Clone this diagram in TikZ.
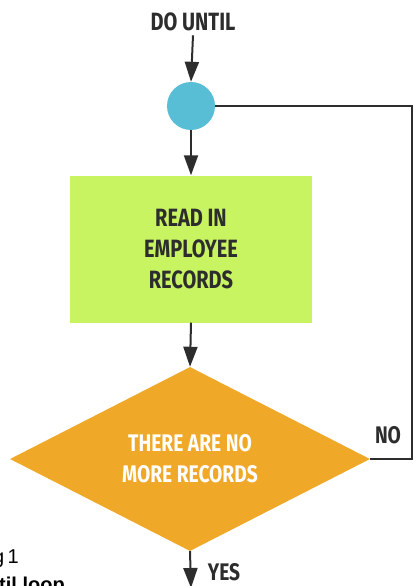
\documentclass[tikz,border=0pt]{standalone}
\usepackage{fontspec}
\setmainfont{Liberation Sans}
\newfontfamily\condfont[FakeStretch=0.8]{Fira Sans}
\usetikzlibrary{shapes.geometric,arrows.meta}
\definecolor{loopblue}{RGB}{88,190,214}
\definecolor{boxgreen}{RGB}{200,244,98}
\definecolor{testorange}{RGB}{240,168,40}
\definecolor{linegray}{RGB}{45,45,45}
\begin{document}
\begin{tikzpicture}[x=1pt,y=-1pt,
  flow/.style={draw=linegray,line width=2pt,-{Triangle[length=20pt,width=14pt]}},
  link/.style={draw=linegray,line width=1.6pt},
  label/.style={font=\condfont\bfseries\fontsize{24}{31}\selectfont,text=linegray,inner sep=0pt},
  loopdot/.style={circle,fill=loopblue,minimum size=48pt,inner sep=0pt},
  readbox/.style={rectangle,fill=boxgreen,minimum width=242pt,minimum height=147pt,align=center,
    font=\condfont\bfseries\fontsize{25}{31}\selectfont,text=linegray},
  test/.style={diamond,fill=testorange,minimum width=360pt,minimum height=174pt,inner sep=0pt,
    align=center,font=\condfont\bfseries\fontsize{24}{31}\selectfont,text=white}]
\useasboundingbox (0,0) rectangle (413,586);
\node[label,font=\condfont\bfseries\fontsize{25}{31}\selectfont] (start) at (193,22) {DO UNTIL};
\node[loopdot] (loop) at (191,106) {};
\node[readbox] (read) at (191,249) {READ IN\\EMPLOYEE\\RECORDS};
\node[test] (check) at (190,459) {THERE ARE NO\\MORE RECORDS};
\node[label] (no) at (388,435) {NO};
\node[label] (yes) at (224,572) {YES};
\coordinate (back) at (412,106);
\coordinate (out) at (191,588);
% caption, cut off at the left
\node[anchor=base east,font=\fontsize{20}{24}\selectfont,inner sep=0pt] (fig) at (19,563) {g\,1};
\node[anchor=base west,font=\bfseries\fontsize{20}{24}\selectfont,inner sep=0pt] (cap) at (-1,591) {til loop};
\draw[flow] ([yshift=-4pt]start.south) -- (loop.north);
\draw[flow] (loop.south) -- (read.north);
\draw[flow] (read.south) -- (check.north);
\draw[flow] (check.south) -- (out);
\draw[link] (check.east) -| (back) -- (loop.east);
\end{tikzpicture}
\end{document}
